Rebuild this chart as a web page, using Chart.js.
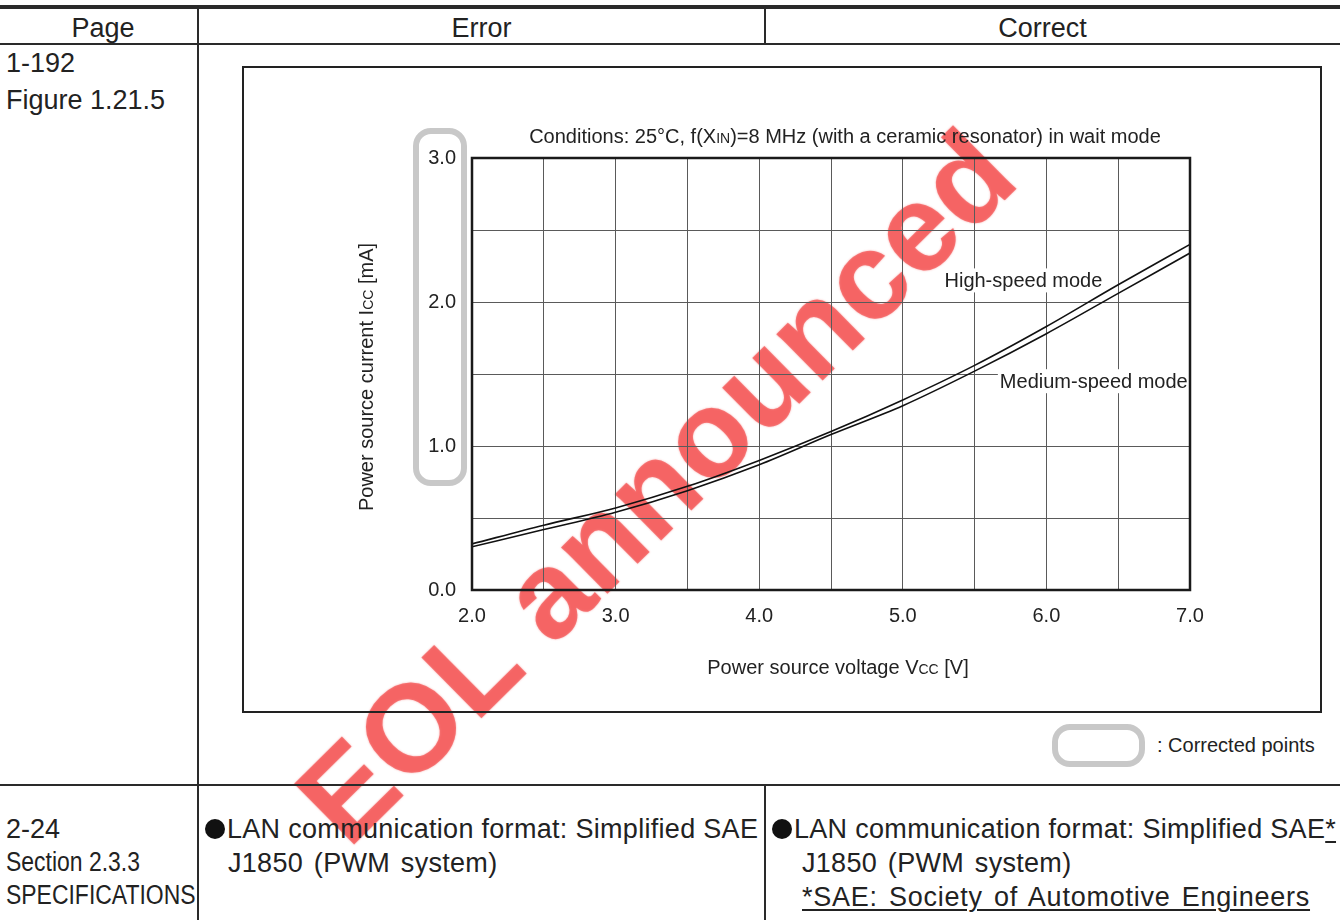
<!DOCTYPE html>
<html>
<head>
<meta charset="utf-8">
<script src="https://cdn.jsdelivr.net/npm/chart.js@4.4.1/dist/chart.umd.min.js"></script>
<style>
body{margin:0;width:1340px;height:920px;background:#fff;position:relative;overflow:hidden;font-family:"Liberation Sans",Arial,sans-serif;color:#222}
.ln{position:absolute;background:#2a2a2a}
.t{position:absolute;font-size:27px;line-height:27px;white-space:nowrap;z-index:3}
.narrow{transform:scaleX(0.85);transform-origin:0 50%}
.dot{display:inline-block;width:20px;height:20px;border-radius:50%;background:#111;vertical-align:-1px;margin-right:2px}
.u{text-decoration:underline;text-underline-offset:3px;text-decoration-thickness:2px}
#wm{position:absolute;left:655px;top:486px;transform:translate(-50%,-50%) rotate(-44.7deg);font:bold 124px "Liberation Sans",Arial,sans-serif;color:rgba(242,45,45,0.55);text-shadow:0 0 2px rgba(240,60,60,0.45);white-space:nowrap;z-index:0}
#frame{position:absolute;left:242px;top:66px;width:1080px;height:647px;border:2px solid #222;box-sizing:border-box;z-index:1}
#c{position:absolute;left:244px;top:68px;z-index:2}
.mark{position:absolute;border:6px solid #c8c8c8;border-radius:18px;box-sizing:border-box;z-index:1}
</style>
</head>
<body>
<div id="wm">EOL announced</div>

<!-- table rules -->
<div class="ln" style="left:0;top:5px;width:1340px;height:4px"></div>
<div class="ln" style="left:0;top:43px;width:1340px;height:2px"></div>
<div class="ln" style="left:0;top:784px;width:1340px;height:2px"></div>
<div class="ln" style="left:197px;top:8px;width:2px;height:912px"></div>
<div class="ln" style="left:764px;top:8px;width:2px;height:36px"></div>
<div class="ln" style="left:764px;top:785px;width:2px;height:135px"></div>

<!-- header -->
<div class="t" style="left:0;width:206px;top:15px;text-align:center">Page</div>
<div class="t" style="left:198px;width:567px;top:15px;text-align:center">Error</div>
<div class="t" style="left:765px;width:555px;top:15px;text-align:center">Correct</div>

<!-- row 1 -->
<div class="t" style="left:6px;top:50px">1-192</div>
<div class="t" style="left:6px;top:87px">Figure 1.21.5</div>

<div id="frame"></div>
<canvas id="c" width="1076" height="643"></canvas>
<div class="mark" style="left:413px;top:128px;width:54px;height:358px"></div>
<div class="mark" style="left:1052px;top:724px;width:93px;height:43px"></div>
<div class="t" style="left:1157px;top:735px;font-size:20px;line-height:20px">: Corrected points</div>

<!-- row 2 -->
<div class="t" style="left:6px;top:816px">2-24</div>
<div class="t narrow" style="left:6px;top:849px">Section 2.3.3</div>
<div class="t narrow" style="left:6px;top:882px">SPECIFICATIONS</div>

<div class="t" style="left:205px;top:816px;letter-spacing:0.3px"><span class="dot"></span>LAN communication format: Simplified SAE</div>
<div class="t" style="left:228px;top:850px;letter-spacing:0.3px;word-spacing:3px">J1850 (PWM system)</div>

<div class="t" style="left:772px;top:816px;letter-spacing:0.3px"><span class="dot"></span>LAN communication format: Simplified SAE<span class="u">*</span></div>
<div class="t" style="left:802px;top:850px;letter-spacing:0.3px;word-spacing:3px">J1850 (PWM system)</div>
<div class="t u" style="left:802px;top:884px;letter-spacing:0.75px;word-spacing:3px">*SAE: Society of Automotive Engineers</div>

<script>
// Icc vs Vcc
const voltage=[2.0,2.5,3.0,3.5,4.0,4.5,5.0,5.5,6.0,6.5,7.0];
const highSpeed=[0.32,0.45,0.57,0.72,0.90,1.10,1.32,1.56,1.83,2.12,2.40];
const mediumSpeed=[0.30,0.42,0.54,0.69,0.87,1.08,1.28,1.52,1.78,2.06,2.34];
const seriesNames=["High-speed mode","Medium-speed mode"];
const xTickLabels=["2.0","3.0","4.0","5.0","6.0","7.0"];
const yTickLabels=["0.0","1.0","2.0","3.0"];
// where the curve names sit, in data units
const nameSpots=[{x:5.84,y:2.15},{x:6.33,y:1.45}];

const FONT='"Liberation Sans", Arial, sans-serif';

function runs(ctx,parts,x,y,rot){
    ctx.save();
    ctx.translate(x,y);
    if(rot) ctx.rotate(rot);
    let w=0;
    parts.forEach(p=>{ctx.font=p[1];w+=ctx.measureText(p[0]).width;});
    let cx=-w/2;
    ctx.fillStyle="#222";
    ctx.textBaseline="alphabetic";
    parts.forEach(p=>{ctx.font=p[1];ctx.fillText(p[0],cx,0);cx+=ctx.measureText(p[0]).width;});
    ctx.restore();
}

const big="20px "+FONT;
const small="14px "+FONT;

const decor={
    id:"decor",
    beforeDatasetsDraw(chart){
        const ctx=chart.ctx;
        const xs=chart.scales.x, ys=chart.scales.y;
        ctx.save();
        ctx.font=big;
        ctx.textAlign="center";
        ctx.textBaseline="middle";
        seriesNames.forEach((name,i)=>{
            const px=xs.getPixelForValue(nameSpots[i].x);
            const py=ys.getPixelForValue(nameSpots[i].y);
            const w=ctx.measureText(name).width;
            ctx.fillStyle="#fff";
            ctx.fillRect(px-w/2-2,py-12,w+4,24);
            ctx.fillStyle="#222";
            ctx.fillText(name,px,py+1);
        });
        ctx.restore();
    },
    afterDatasetsDraw(chart){
        const ctx=chart.ctx, a=chart.chartArea;
        ctx.save();
        ctx.strokeStyle="#1a1a1a";
        ctx.lineWidth=2.5;
        ctx.strokeRect(a.left,a.top,a.right-a.left,a.bottom-a.top);
        ctx.restore();
    },
    afterDraw(chart){
        const ctx=chart.ctx, a=chart.chartArea;
        const mid=(a.left+a.right)/2;
        runs(ctx,[["Conditions: 25°C, f(X",big],["IN",small],[")=8 MHz (with a ceramic resonator) in wait mode",big]],mid+14,a.top-15);
        runs(ctx,[["Power source voltage V",big],["CC",small],[" [V]",big]],mid+7,a.bottom+84);
        runs(ctx,[["Power source current I",big],["CC",small],[" [mA]",big]],a.left-99,(a.top+a.bottom)/2+3,-Math.PI/2);
    }
};

new Chart(document.getElementById("c"),{
    type:"scatter",
    data:{
        datasets:[
            {label:seriesNames[0],data:voltage.map((v,i)=>({x:v,y:highSpeed[i]})),showLine:true,
             borderColor:"#111",borderWidth:1.6,pointRadius:0,cubicInterpolationMode:"monotone",fill:false},
            {label:seriesNames[1],data:voltage.map((v,i)=>({x:v,y:mediumSpeed[i]})),showLine:true,
             borderColor:"#111",borderWidth:1.6,pointRadius:0,cubicInterpolationMode:"monotone",fill:false}
        ]
    },
    options:{
        responsive:false,
        animation:false,
        layout:{padding:{left:168,top:90,right:130,bottom:81}},
        plugins:{legend:{display:false},tooltip:{enabled:false}},
        scales:{
            x:{
                type:"linear",min:2,max:7,
                afterFit:(s)=>{s.height=40;},
                ticks:{stepSize:0.5,autoSkip:false,maxRotation:0,padding:14,color:"#222",
                    font:{family:FONT,size:20},
                    callback:(v)=>xTickLabels.includes(Number(v).toFixed(1))?Number(v).toFixed(1):""},
                grid:{color:"#5a5a5a",lineWidth:1,drawTicks:false},
                border:{display:false}
            },
            y:{
                type:"linear",min:0,max:3,
                afterFit:(s)=>{s.width=60;},
                ticks:{stepSize:0.5,autoSkip:false,padding:16,color:"#222",
                    font:{family:FONT,size:20},
                    callback:(v)=>yTickLabels.includes(Number(v).toFixed(1))?Number(v).toFixed(1):""},
                grid:{color:"#5a5a5a",lineWidth:1,drawTicks:false},
                border:{display:false}
            }
        }
    },
    plugins:[decor]
});
</script>
</body>
</html>
